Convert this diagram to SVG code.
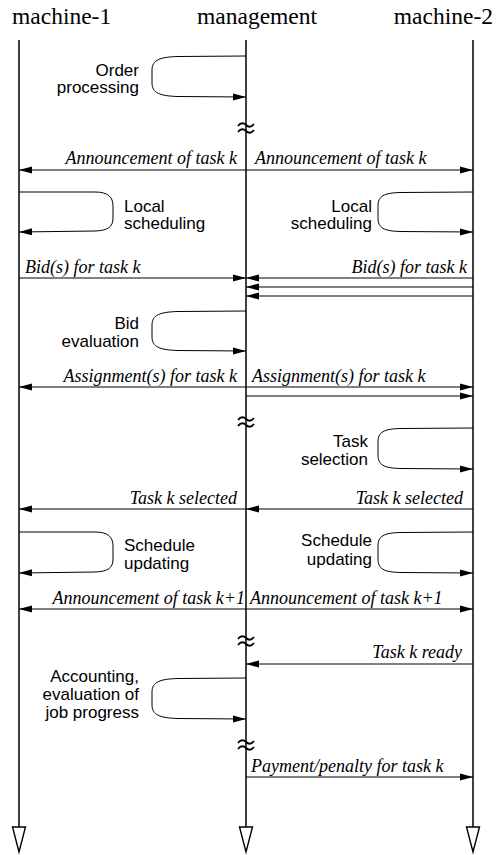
<svg xmlns="http://www.w3.org/2000/svg" width="496" height="855" viewBox="0 0 496 855">
  <style>
    .title { font-family: "Liberation Serif", "Times New Roman", serif; font-size: 23.5px; fill: #000; }
    .msg { font-family: "Liberation Serif", "Times New Roman", serif; font-style: italic; font-size: 18px; fill: #000; }
    .act { font-family: "Liberation Sans", Arial, sans-serif; font-size: 17px; fill: #000; }
    .life { stroke: #000; stroke-width: 1.5; fill: none; }
    .end { stroke: #000; stroke-width: 1.4; fill: #fff; }
    .arrow { stroke: #000; stroke-width: 1; fill: none; marker-end: url(#head); }
    .loop { stroke: #000; stroke-width: 1; fill: none; marker-end: url(#head); }
    .brk { stroke: #000; stroke-width: 1.8; fill: none; }
  </style>
  <defs>
    <marker id="head" markerUnits="userSpaceOnUse" markerWidth="13" markerHeight="8" refX="13" refY="4" orient="auto">
      <path d="M0,0.5 L13,4 L0,7.5 z" fill="#000"/>
    </marker>
    <!-- time-break symbol on a lifeline -->
    <g id="break">
      <path class="brk" d="M-8,-2 C-5,-6 -2,-5 0,-3 C2,-1 5,0 8,-4"/>
      <path class="brk" d="M-8,4 C-5,0 -2,1 0,3 C2,5 5,6 8,2"/>
    </g>
  </defs>

  <!-- lifelines -->
  <g id="machine-1">
    <text class="title" x="12" y="24">machine-1</text>
    <line class="life" x1="19" y1="40" x2="19" y2="827"/>
    <path class="end" d="M12.5,827 L25.5,827 L19,852 z"/>
  </g>
  <g id="management">
    <text class="title" x="197" y="24">management</text>
    <line class="life" x1="246" y1="40" x2="246" y2="827"/>
    <path class="end" d="M239.5,827 L252.5,827 L246,852 z"/>
    <use href="#break" x="246" y="128"/>
    <use href="#break" x="246" y="422"/>
    <use href="#break" x="246" y="641"/>
    <use href="#break" x="246" y="745"/>
  </g>
  <g id="machine-2">
    <text class="title" x="493" y="24" text-anchor="end">machine-2</text>
    <line class="life" x1="473" y1="40" x2="473" y2="827"/>
    <path class="end" d="M466.5,827 L479.5,827 L473,852 z"/>
  </g>

  <!-- local activities (self loops) -->
  <g id="order-processing">
    <path class="loop" d="M246,56 L178,56.5 C160,57 152,60 152,70 L152,83 C152,93 160,96 178,96.5 L246,97"/>
    <text class="act" x="139" y="75.5" text-anchor="end">Order</text>
    <text class="act" x="139" y="93" text-anchor="end">processing</text>
  </g>
  <g id="local-scheduling-1">
    <path class="loop" d="M19,192 L95,192 C108,192 113,197 113,206 L113,218 C113,227 108,230.5 95,231 L19,232"/>
    <text class="act" x="124" y="211.5">Local</text>
    <text class="act" x="124" y="229">scheduling</text>
  </g>
  <g id="local-scheduling-2">
    <path class="loop" d="M473,192 L400,192.5 C384,193 378,196 378,206 L378,218 C378,228 384,231 400,231.5 L473,232"/>
    <text class="act" x="372" y="211.5" text-anchor="end">Local</text>
    <text class="act" x="372" y="229" text-anchor="end">scheduling</text>
  </g>
  <g id="bid-evaluation">
    <path class="loop" d="M246,311 L178,311.5 C160,312 152,315 152,325 L152,337 C152,347 160,350 178,350.5 L246,351"/>
    <text class="act" x="139" y="329" text-anchor="end">Bid</text>
    <text class="act" x="139" y="347" text-anchor="end">evaluation</text>
  </g>
  <g id="task-selection">
    <path class="loop" d="M473,428 L400,428.5 C384,429 378,432 378,442 L378,455 C378,465 384,468 400,468.5 L473,469"/>
    <text class="act" x="368" y="447" text-anchor="end">Task</text>
    <text class="act" x="368" y="465" text-anchor="end">selection</text>
  </g>
  <g id="schedule-updating-1">
    <path class="loop" d="M19,532 L95,532 C108,532 113,537 113,546 L113,559 C113,568 108,571.5 95,572 L19,573"/>
    <text class="act" x="124" y="551">Schedule</text>
    <text class="act" x="124" y="569">updating</text>
  </g>
  <g id="schedule-updating-2">
    <path class="loop" d="M473,532 L400,532.5 C384,533 378,536 378,546 L378,559 C378,569 384,572 400,572.5 L473,573"/>
    <text class="act" x="372" y="546" text-anchor="end">Schedule</text>
    <text class="act" x="372" y="565" text-anchor="end">updating</text>
  </g>
  <g id="accounting">
    <path class="loop" d="M246,678 L178,678.5 C160,679 152,682 152,692 L152,705 C152,715 160,718 178,718.5 L246,719"/>
    <text class="act" x="139" y="682" text-anchor="end">Accounting,</text>
    <text class="act" x="139" y="700" text-anchor="end">evaluation of</text>
    <text class="act" x="139" y="718" text-anchor="end">job progress</text>
  </g>

  <!-- messages -->
  <g id="connectors">
    <line class="arrow" x1="246" y1="170" x2="19" y2="170"/>
    <line class="arrow" x1="246" y1="170" x2="473" y2="170"/>
    <text class="msg" x="237" y="164" text-anchor="end">Announcement of task k</text>
    <text class="msg" x="255" y="164">Announcement of task k</text>

    <line class="arrow" x1="19" y1="278" x2="246" y2="278"/>
    <line class="arrow" x1="473" y1="278" x2="246" y2="278"/>
    <line class="arrow" x1="473" y1="287" x2="246" y2="287"/>
    <line class="arrow" x1="473" y1="296" x2="246" y2="296"/>
    <text class="msg" x="25" y="273">Bid(s) for task k</text>
    <text class="msg" x="467" y="273" text-anchor="end">Bid(s) for task k</text>

    <line class="arrow" x1="246" y1="387" x2="19" y2="387"/>
    <line class="arrow" x1="246" y1="387" x2="473" y2="387"/>
    <line class="arrow" x1="246" y1="396" x2="473" y2="396"/>
    <text class="msg" x="237" y="382" text-anchor="end">Assignment(s) for task k</text>
    <text class="msg" x="252" y="382">Assignment(s) for task k</text>

    <line class="arrow" x1="246" y1="509" x2="19" y2="509"/>
    <line class="arrow" x1="473" y1="509" x2="246" y2="509"/>
    <text class="msg" x="237" y="504" text-anchor="end">Task k selected</text>
    <text class="msg" x="463" y="504" text-anchor="end">Task k selected</text>

    <line class="arrow" x1="246" y1="609" x2="19" y2="609"/>
    <line class="arrow" x1="246" y1="609" x2="473" y2="609"/>
    <text class="msg" x="245" y="604" text-anchor="end">Announcement of task k+1</text>
    <text class="msg" x="250" y="604">Announcement of task k+1</text>

    <line class="arrow" x1="473" y1="664" x2="246" y2="664"/>
    <text class="msg" x="462" y="658" text-anchor="end">Task k ready</text>

    <line class="arrow" x1="246" y1="777" x2="473" y2="777"/>
    <text class="msg" x="251" y="772">Payment/penalty for task k</text>
  </g>
</svg>
